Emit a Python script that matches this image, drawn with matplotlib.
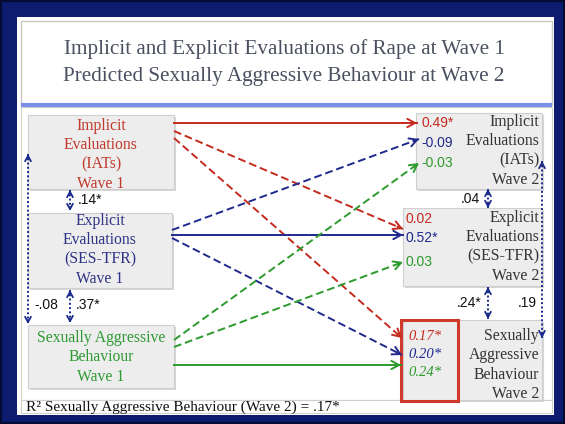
import matplotlib.pyplot as plt
from matplotlib.patches import Rectangle

# --- data -------------------------------------------------------------
title_lines = ["Implicit and Explicit Evaluations of Rape at Wave 1",
               "Predicted Sexually Aggressive Behaviour at Wave 2"]

w1_labels = ["Implicit\nEvaluations\n(IATs)\nWave 1",
             "Explicit\nEvaluations\n(SES-TFR)\nWave 1",
             "Sexually Aggressive\nBehaviour\nWave 1"]
w2_labels = ["Implicit\nEvaluations\n(IATs)\nWave 2",
             "Explicit\nEvaluations\n(SES-TFR)\nWave 2",
             "Sexually\nAggressive\nBehaviour\nWave 2"]

# rows = wave 1 predictor, cols = wave 2 outcome
path_values = [[0.49, 0.02, 0.17],
               [-0.09, 0.52, 0.20],
               [-0.03, 0.03, 0.24]]
path_sig = [[True, False, True],
            [False, True, True],
            [False, False, True]]

# covariances: (implicit-explicit, explicit-sab, implicit-sab)
w1_cov_values = [0.14, 0.37, -0.08]
w1_cov_sig = [True, True, False]
w2_cov_values = [0.04, 0.24, 0.19]
w2_cov_sig = [False, True, False]

r2_sab_w2 = 0.17
r2_sig = True

colors = ["#c42a1e", "#1f2a8c", "#2c9a2c"]
text_colors = ["#c0392b", "#2e3385", "#2f9a33"]
navy = "#0d1c6e"
cov_color = "#1a2a8a"


def fmt_coef(v, sig):
    return f"{v:.2f}" + ("*" if sig else "")


def fmt_cov(v, sig):
    s = f"{v:.2f}".replace("0.", ".")
    return s + ("*" if sig else "")


fig = plt.figure(figsize=(5.65, 4.24), dpi=100)
ax = fig.add_axes([0, 0, 1, 1])
ax.set_xlim(0, 565)
ax.set_ylim(424, 0)
ax.axis("off")

# frame
ax.add_patch(Rectangle((0, 0), 565, 424, facecolor=navy, edgecolor="#050a30", lw=3))
ax.add_patch(Rectangle((17, 17), 537, 398, facecolor="white", edgecolor="none"))
ax.add_patch(Rectangle((21, 21), 531, 84, facecolor="white", edgecolor="#c8c8c8", lw=1))
ax.plot([21, 552], [105, 105], color="#7b8fe6", lw=3, solid_capstyle="butt")
ax.add_patch(Rectangle((21, 107), 531, 293, facecolor="white", edgecolor="#d0d0d0", lw=0.8))
ax.add_patch(Rectangle((21, 400), 531, 13, facecolor="white", edgecolor="#d0d0d0", lw=0.8))

serif = "Liberation Serif"
sans = "Liberation Sans"

for i, line in enumerate(title_lines):
    ax.text(284, 49 + i * 28, line, ha="center", va="center", fontsize=15.2,
            family=serif, color="#4a5060")

# boxes (x0, y0, x1, y1)
w1_boxes = [(28, 115, 174, 189), (28, 213, 172, 288), (28, 325, 174, 388)]
w2_boxes = [(416, 113, 542, 189), (403, 208, 542, 286), (403, 320, 542, 400)]
w1_text_top = [118, 213, 330]
w2_text_top = [114, 210, 328]


def draw_box(b):
    x0, y0, x1, y1 = b
    ax.add_patch(Rectangle((x0 + 1.5, y0 + 1.5), x1 - x0, y1 - y0,
                           facecolor="#bdbdbd", edgecolor="none", alpha=0.6))
    ax.add_patch(Rectangle((x0, y0), x1 - x0, y1 - y0,
                           facecolor="#ededed", edgecolor="#cfcfcf", lw=0.8))


for i, b in enumerate(w1_boxes):
    draw_box(b)
    ax.text((b[0] + b[2]) / 2, w1_text_top[i], w1_labels[i], ha="center",
            va="top", fontsize=11.3, family=serif, color=text_colors[i],
            linespacing=1.28)
for i, b in enumerate(w2_boxes):
    draw_box(b)
    ax.text(b[2] - 3, w2_text_top[i], w2_labels[i], ha="right",
            va="top", fontsize=11.3, family=serif, color="#333333",
            linespacing=1.28)

# highlight around SAB wave 2 coefficients
ax.add_patch(Rectangle((401, 320), 57, 81, facecolor="none", edgecolor="#d03a2a", lw=2.2))


def arrow_head(end, start, color, lw=1.4, size=1.0):
    style = f"->,head_length={0.55 * size},head_width={0.3 * size}"
    ax.annotate("", xy=end, xytext=start,
                arrowprops=dict(arrowstyle=style, color=color, lw=lw,
                                shrinkA=0, shrinkB=0))


def path(start, end, color, dashed):
    if dashed:
        ax.plot([start[0], end[0]], [start[1], end[1]], color=color, lw=1.4,
                dashes=(4, 2))
    else:
        ax.plot([start[0], end[0]], [start[1], end[1]], color=color, lw=1.4)
    dx, dy = end[0] - start[0], end[1] - start[1]
    n = (dx ** 2 + dy ** 2) ** 0.5
    arrow_head(end, (end[0] - dx / n * 6, end[1] - dy / n * 6), color)


starts = [[(174, 123), (174, 131), (174, 138)],
          [(172, 230), (172, 235), (172, 238)],
          [(174, 340), (174, 347), (174, 365)]]
ends = [[(417, 123), (403, 229), (402, 338)],
        [(419, 139), (403, 235), (402, 355)],
        [(419, 163), (403, 262), (401, 365)]]

for i in range(3):
    for j in range(3):
        path(starts[i][j], ends[i][j], colors[i], i != j)

# coefficient labels
label_pos = [[(421, 123), (406, 219), (406, 336)],
             [(421, 143), (406, 238), (406, 354)],
             [(421, 163), (406, 262), (406, 373)]]
for i in range(3):
    for j in range(3):
        x, y = label_pos[i][j]
        if j == 2:
            ax.text(x + 2, y, fmt_coef(path_values[i][j], path_sig[i][j]),
                    ha="left", va="center", fontsize=10.5, family=serif,
                    style="italic", color=colors[i])
        else:
            ax.text(x, y, fmt_coef(path_values[i][j], path_sig[i][j]),
                    ha="left", va="center", fontsize=10, family=sans,
                    color=colors[i])


def cov_arrow(x, y0, y1):
    ax.plot([x, x], [y0, y1], color=cov_color, lw=1.4, ls=(0, (1, 1.2)))
    arrow_head((x, y0), (x, y0 + 4), cov_color, lw=1.3, size=0.7)
    arrow_head((x, y1), (x, y1 - 4), cov_color, lw=1.3, size=0.7)


cov_arrow(70, 190, 211)
cov_arrow(70, 290, 323)
cov_arrow(28, 154, 324)
cov_arrow(488, 189, 208)
cov_arrow(488, 287, 319)
cov_arrow(542, 161, 338)

ax.text(78, 200, fmt_cov(w1_cov_values[0], w1_cov_sig[0]), ha="left",
        va="center", fontsize=10, family=sans, color="#111111")
ax.text(76, 305, fmt_cov(w1_cov_values[1], w1_cov_sig[1]), ha="left",
        va="center", fontsize=10, family=sans, color="#111111")
ax.text(34, 305, fmt_cov(w1_cov_values[2], w1_cov_sig[2]), ha="left",
        va="center", fontsize=10, family=sans, color="#111111")
ax.text(480, 199, fmt_cov(w2_cov_values[0], w2_cov_sig[0]), ha="right",
        va="center", fontsize=10, family=sans, color="#111111")
ax.text(481, 303, fmt_cov(w2_cov_values[1], w2_cov_sig[1]), ha="right",
        va="center", fontsize=10, family=sans, color="#111111")
ax.text(537, 303, fmt_cov(w2_cov_values[2], w2_cov_sig[2]), ha="right",
        va="center", fontsize=10, family=sans, color="#111111")

r2_txt = "R\u00b2 Sexually Aggressive Behaviour (Wave 2) = " + fmt_cov(r2_sab_w2, r2_sig)
ax.text(26, 407, r2_txt, ha="left", va="center", fontsize=11, family=serif,
        color="#111111")

fig.savefig("out.png", dpi=100)
